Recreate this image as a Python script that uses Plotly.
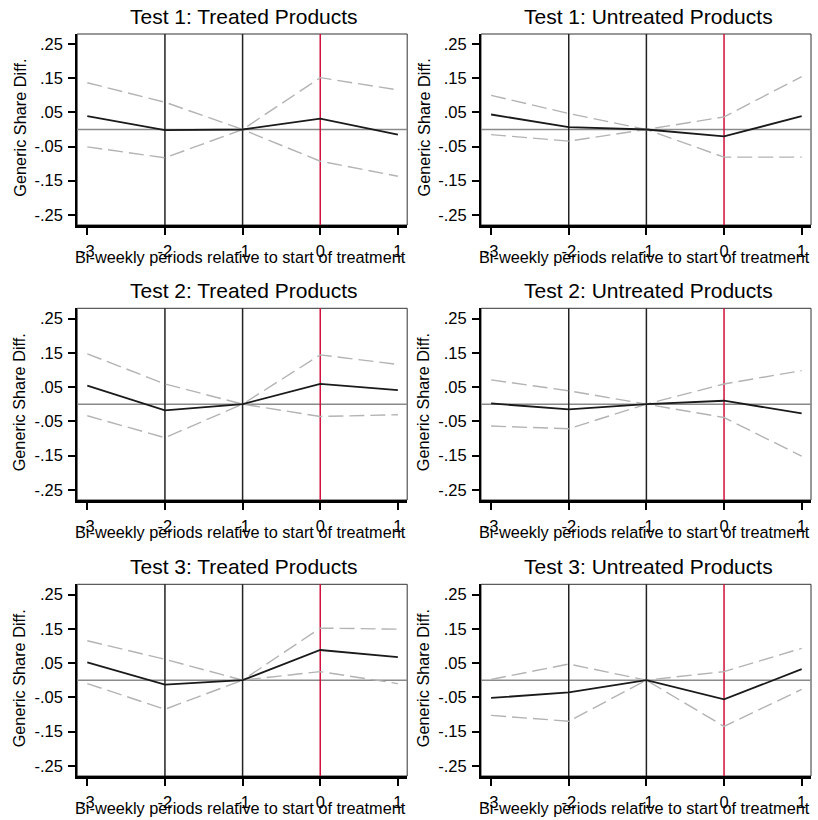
import plotly.graph_objects as go

periods = [-3, -2, -1, 0, 1]

titles = [
    "Test 1: Treated Products", "Test 1: Untreated Products",
    "Test 2: Treated Products", "Test 2: Untreated Products",
    "Test 3: Treated Products", "Test 3: Untreated Products",
]

# point estimates
est_t1_treated = [0.039, -0.002, 0.0, 0.032, -0.015]
est_t1_untreated = [0.044, 0.007, 0.0, -0.020, 0.039]
est_t2_treated = [0.054, -0.018, 0.0, 0.059, 0.041]
est_t2_untreated = [0.002, -0.015, 0.0, 0.010, -0.027]
est_t3_treated = [0.052, -0.013, 0.0, 0.088, 0.067]
est_t3_untreated = [-0.052, -0.036, 0.0, -0.056, 0.032]

# confidence band (upper)
hi_t1_treated = [0.137, 0.080, 0.0, 0.152, 0.116]
hi_t1_untreated = [0.100, 0.047, 0.0, 0.037, 0.155]
hi_t2_treated = [0.147, 0.059, 0.0, 0.144, 0.116]
hi_t2_untreated = [0.071, 0.039, 0.0, 0.059, 0.098]
hi_t3_treated = [0.115, 0.061, 0.0, 0.152, 0.149]
hi_t3_untreated = [0.002, 0.047, 0.0, 0.025, 0.093]

# confidence band (lower)
lo_t1_treated = [-0.051, -0.083, 0.0, -0.093, -0.137]
lo_t1_untreated = [-0.015, -0.034, 0.0, -0.081, -0.081]
lo_t2_treated = [-0.034, -0.098, 0.0, -0.036, -0.031]
lo_t2_untreated = [-0.064, -0.072, 0.0, -0.039, -0.152]
lo_t3_treated = [-0.010, -0.085, 0.0, 0.025, -0.010]
lo_t3_untreated = [-0.103, -0.120, 0.0, -0.135, -0.027]

estimates = [est_t1_treated, est_t1_untreated, est_t2_treated,
             est_t2_untreated, est_t3_treated, est_t3_untreated]
uppers = [hi_t1_treated, hi_t1_untreated, hi_t2_treated,
          hi_t2_untreated, hi_t3_treated, hi_t3_untreated]
lowers = [lo_t1_treated, lo_t1_untreated, lo_t2_treated,
          lo_t2_untreated, lo_t3_treated, lo_t3_untreated]

y_tickvals = [0.25, 0.15, 0.05, -0.05, -0.15, -0.25]
y_ticktext = [".25", ".15", ".05", "-.05", "-.15", "-.25"]
x_title = "Bi-weekly periods relative to start of treatment"
y_title = "Generic Share Diff."
vlines_black = [-2, -1]
vline_red = 0

W, H = 818, 820
FONT = "Liberation Sans, Arial, sans-serif"

col_px = [(77.2, 407.2), (481.0, 811.0)]
row_px = [(34.0, 225.0), (308.3, 500.0), (584.3, 776.0)]

fig = go.Figure()
layout = dict(
    width=W, height=H, margin=dict(l=0, r=0, t=0, b=0),
    paper_bgcolor="white", plot_bgcolor="white", showlegend=False,
    font=dict(family=FONT, color="black"),
)
shapes = []
annotations = []

for i in range(6):
    r, c = divmod(i, 2)
    n = "" if i == 0 else str(i + 1)
    xa, ya = "x" + n, "y" + n
    x0, x1 = col_px[c]
    y0, y1 = row_px[r]
    xdom = [x0 / W, x1 / W]
    ydom = [1 - y1 / H, 1 - y0 / H]
    layout["xaxis" + n] = dict(
        domain=xdom, anchor=ya, range=[-3.13, 1.12], tickvals=periods,
        ticktext=[str(p) for p in periods], showgrid=False, zeroline=False,
        showline=True, linewidth=3, linecolor="black", ticks="outside",
        ticklen=7, tickwidth=1.5, tickcolor="black", ticklabelstandoff=2,
        tickfont=dict(size=16.5, family=FONT, color="black"),
    )
    layout["yaxis" + n] = dict(
        domain=ydom, anchor=xa, range=[-0.28, 0.28], tickvals=y_tickvals,
        ticktext=y_ticktext, showgrid=False, zeroline=False,
        showline=True, linewidth=2, linecolor="black", ticks="outside",
        ticklen=7, tickwidth=1.5, tickcolor="black", ticklabelstandoff=2,
        tickfont=dict(size=16.5, family=FONT, color="black"),
    )
    # frame
    shapes.append(dict(type="rect", xref=xa + " domain", yref=ya + " domain",
                       x0=0, x1=1, y0=0, y1=1, line=dict(color="#333", width=1),
                       layer="below"))
    # reference lines
    shapes.append(dict(type="line", xref=xa + " domain", yref=ya, x0=0, x1=1,
                       y0=0, y1=0, line=dict(color="#8a8a8a", width=1.5),
                       layer="below"))
    for v in vlines_black:
        shapes.append(dict(type="line", xref=xa, yref=ya + " domain", x0=v, x1=v,
                           y0=0, y1=1, line=dict(color="#222", width=1.5),
                           layer="below"))
    shapes.append(dict(type="line", xref=xa, yref=ya + " domain", x0=vline_red,
                       x1=vline_red, y0=0, y1=1,
                       line=dict(color="#d0103a", width=1.5), layer="below"))

    fig.add_trace(go.Scatter(x=periods, y=uppers[i], mode="lines", xaxis=xa, yaxis=ya,
                             line=dict(color="#b3b3b3", width=1.4, dash="15px,6px")))
    fig.add_trace(go.Scatter(x=periods, y=lowers[i], mode="lines", xaxis=xa, yaxis=ya,
                             line=dict(color="#b3b3b3", width=1.4, dash="15px,6px")))
    fig.add_trace(go.Scatter(x=periods, y=estimates[i], mode="lines", xaxis=xa, yaxis=ya,
                             line=dict(color="#1a1a1a", width=1.8)))

    cx = (x0 + x1) / 2
    # title
    annotations.append(dict(text=titles[i], xref="paper", yref="paper",
                            x=(cx + 2) / W, y=1 - (y0 - 4) / H, xanchor="center",
                            yanchor="bottom", showarrow=False,
                            font=dict(size=21, family=FONT, color="black")))
    # x-axis title
    annotations.append(dict(text=x_title, xref="paper", yref="paper",
                            x=(cx - 2) / W, y=1 - (y1 + 32) / H, xanchor="center",
                            yanchor="middle", showarrow=False,
                            font=dict(size=16.3, family=FONT, color="black")))
    # y-axis title
    annotations.append(dict(text=y_title, xref="paper", yref="paper",
                            x=(x0 - 58) / W, y=1 - ((y0 + y1) / 2 - 2) / H,
                            xanchor="center", yanchor="middle", textangle=-90,
                            showarrow=False,
                            font=dict(size=16.3, family=FONT, color="black")))

layout["shapes"] = shapes
layout["annotations"] = annotations
fig.update_layout(**layout)
fig.write_html("out.html", config={"displayModeBar": False},
               post_script="document.body.style.margin='0';document.body.style.overflow='hidden';")
